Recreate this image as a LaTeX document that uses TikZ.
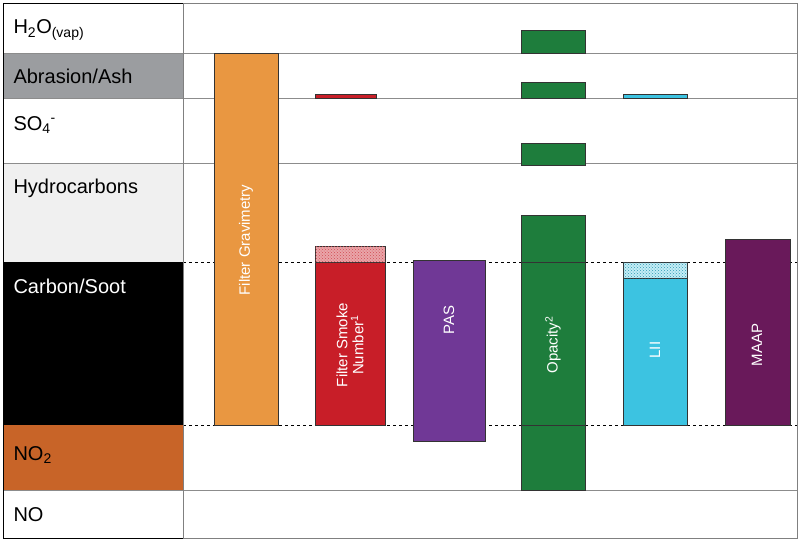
\documentclass[tikz,border=0pt]{standalone}
\usepackage{fontspec}
\setmainfont{Liberation Sans}
\usetikzlibrary{patterns}
\definecolor{myOrange}{RGB}{233,151,65}
\definecolor{myRed}{RGB}{200,30,40}
\definecolor{myPurple}{RGB}{112,56,150}
\definecolor{myGreen}{RGB}{30,125,60}
\definecolor{myCyan}{RGB}{60,195,225}
\definecolor{myPlum}{RGB}{105,25,90}
\definecolor{myAsh}{RGB}{155,157,160}
\definecolor{myHC}{RGB}{240,240,240}
\definecolor{myNO}{RGB}{200,100,40}
\begin{document}
\begin{tikzpicture}[x=1pt,y=-1pt,
    bar/.style={draw=black!80,line width=0.8pt},
    barlabel/.style={rotate=90,text=white,font=\fontsize{15}{16}\selectfont,align=center},
    rowlabel/.style={anchor=west,font=\fontsize{20}{22}\selectfont},
    sep/.style={draw=black!45,line width=0.5pt}]
  \useasboundingbox (0,0) rectangle (800,542);
  % left column
  \fill[myAsh] (3,53) rectangle (183,98);
  \fill[myHC] (3,163) rectangle (183,262);
  \fill[black] (3,262) rectangle (183,425);
  \fill[myNO] (3,425) rectangle (183,490);
  \foreach \yy in {53,98,163,490} \draw[sep] (3,\yy) -- (797,\yy);
  \foreach \yy in {262,425} \draw[dashed,line width=0.8pt] (183,\yy) -- (797,\yy);
  \draw[line width=0.8pt] (3,3) rectangle (183,538);
  \draw[black!50] (183,3) rectangle (797,538);
  \node[rowlabel] (h2o) at (10,30) {H\textsubscript{2}O\textsubscript{(vap)}};
  \node[rowlabel] (ash) at (10,76) {Abrasion/Ash};
  \node[rowlabel] (so4) at (10,125) {SO\textsubscript{4}\textsuperscript{-}};
  \node[rowlabel] (hc) at (10,188) {Hydrocarbons};
  \node[rowlabel,text=white] (soot) at (10,286) {Carbon/Soot};
  \node[rowlabel] (no2) at (10,455) {NO\textsubscript{2}};
  \node[rowlabel] (no) at (10,515) {NO};
  % bars
  \draw[bar,fill=myOrange] (214,53) rectangle (278,425);
  \node[barlabel] (grav) at (246,240) {Filter Gravimetry};
  \draw[bar,fill=myRed] (315,262) rectangle (385,425);
  \draw[bar,fill=myRed!40,postaction={pattern=crosshatch dots,pattern color=myRed!80}] (315,246) rectangle (385,262);
  \draw[bar,fill=myRed,line width=0.5pt] (315,94) rectangle (376,98);
  \node[barlabel] (fsn) at (350,345) {Filter Smoke\\Number\textsuperscript{1}};
  \draw[bar,fill=myPurple] (413,260) rectangle (485,441);
  \node[barlabel] (pas) at (449,320) {PAS};
  \draw[bar,fill=myGreen] (521,30) rectangle (585,53);
  \draw[bar,fill=myGreen] (521,82) rectangle (585,98);
  \draw[bar,fill=myGreen] (521,143) rectangle (585,165);
  \draw[bar,fill=myGreen] (521,215) rectangle (585,490);
  \draw[bar] (521,262) -- (585,262) (521,425) -- (585,425);
  \node[barlabel] (opa) at (553,345) {Opacity\textsuperscript{2}};
  \draw[bar,fill=myCyan] (623,278) rectangle (687,425);
  \draw[bar,fill=myCyan!30,postaction={pattern=crosshatch dots,pattern color=myCyan!80!black}] (623,262) rectangle (687,278);
  \draw[bar,fill=myCyan,line width=0.5pt] (623,94) rectangle (687,98);
  \node[barlabel] (lii) at (655,350) {LII};
  \draw[bar,fill=myPlum] (725,239) rectangle (790,425);
  \node[barlabel] (maap) at (757,345) {MAAP};
\end{tikzpicture}
\end{document}
